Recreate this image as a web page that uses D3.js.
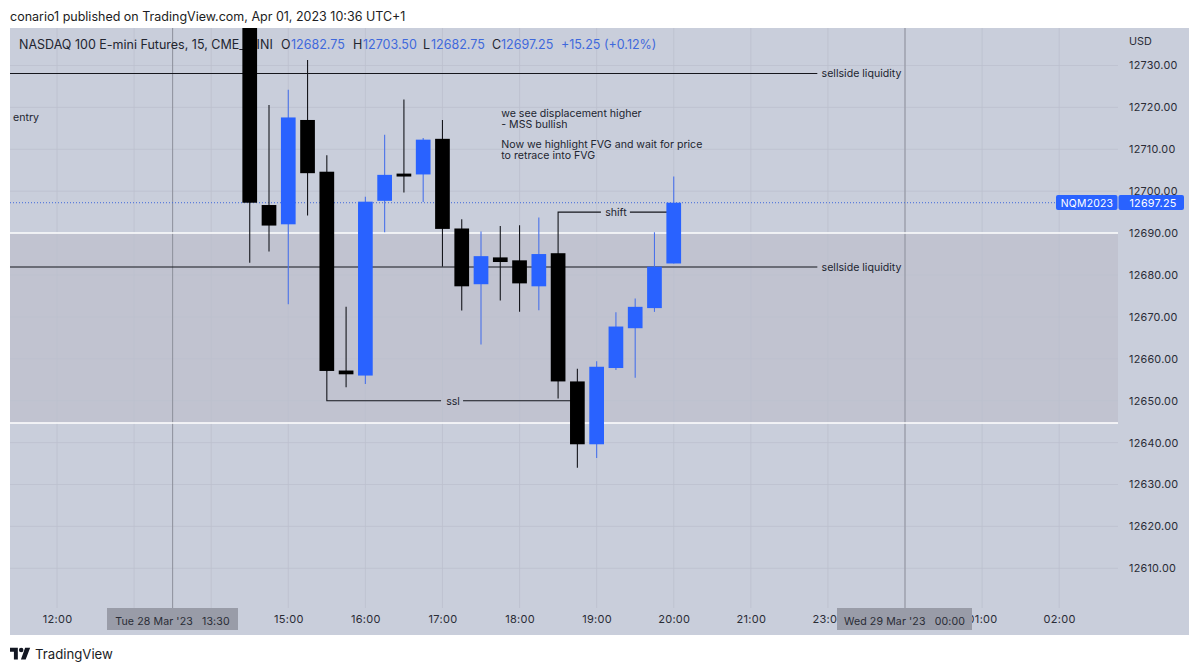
<!DOCTYPE html>
<html><head><meta charset="utf-8">
<script src="https://cdn.jsdelivr.net/npm/d3@7"></script>
<style>
html,body{margin:0;padding:0;background:#fff;overflow:hidden}
svg{display:block}
text{font-family:Inter,"Noto Sans",sans-serif}
</style></head><body>
<svg id="c" width="1200" height="672"></svg>
<script>
// bar index 0 = 12:00, 15-minute bars (22:00 hour is absent from the session)
const barIndex = [10,11,12,13,14,15,16,17,18,19,20,21,22,23,24,25,26,27,28,29,30,31,32];
const opens  = [12745,12696.7,12692.1,12717.0,12704.65,12657.2,12656.0,12697.7,12704.2,12704.0,12712.5,12691.1,12677.8,12684.2,12683.5,12677.3,12685.2,12654.6,12639.6,12657.8,12667.3,12672.1,12682.75];
const highs  = [12750,12720.6,12724.2,12731.3,12708.6,12672.4,12698.7,12713.5,12721.9,12712.7,12717.0,12693.3,12690.4,12691.7,12691.9,12693.7,12685.25,12657.6,12659.4,12671.1,12674.4,12690.2,12703.5];
const lows   = [12682.9,12685.6,12673.0,12694.2,12657.0,12653.2,12654.0,12690.2,12699.7,12697.4,12682.0,12671.5,12663.4,12673.9,12671.2,12671.6,12650.5,12634.0,12636.3,12657.3,12655.5,12671.2,12682.75];
const closes = [12697.25,12691.8,12717.6,12704.3,12657.1,12656.3,12697.5,12703.9,12703.5,12712.3,12691.0,12677.3,12684.5,12683.1,12678.0,12685.0,12654.6,12639.6,12658.1,12667.7,12672.4,12682.0,12697.25];

const priceTicks = [12730,12720,12710,12700,12690,12680,12670,12660,12650,12640,12630,12620,12610];
const gridBars = [0,4,8,12,16,20,24,28,32,36,40,44,48,52];
const timeBars = [0,12,16,20,24,28,32,36,40,48,52];
const timeLabels = ["12:00","15:00","16:00","17:00","18:00","19:00","20:00","21:00","23:00","01:00","02:00"];

const zoneTop = 12690, zoneBottom = 12644.7;
const lastPrice = 12697.25;
const sellsideLevels = [12728.1,12681.9];
const sellsideEnd = 39.45, sellsideLabelBar = 40.45;
const sslLevel = 12650, sslFromBar = 14, sslToBar = 27, sslLabelBar = 20.55;
const shiftLevel = 12695, shiftFromBar = 26, shiftToBar = 32, shiftLabelBar = 29;
const noteLines = [["we see displacement higher",12717.7],["- MSS bullish",12715.1],["Now we highlight FVG and wait for price",12710.3],["to retrace into FVG",12707.7]];
const noteBar = 23.05;
const crossBars = [6,44];
const crossLabels = ["Tue 28 Mar '23   13:30","Wed 29 Mar '23   00:00"];

const ohlc = [["O","12682.75"],["H","12703.50"],["L","12682.75"],["C","12697.25"]];
const ohlcX = [281,353,423,492];

const BLUE="#2962ff", VAL="#3f69dc", INK="#222530", AX="#2a2c36";
const PANE={l:10,r:1189,t:28,b:635}, PLOT_R=1118, GRID_B=608;

const svg=d3.select("#c");
const x=d3.scaleLinear().domain([0,52]).range([57,1059.2]);
const y=d3.scaleLinear().domain([12730,12610]).range([65.5,568.3]);

svg.append("text").attr("x",10).attr("y",21).attr("font-size",12.5).attr("fill","#1c1c22")
  .text("conario1 published on TradingView.com, Apr 01, 2023 10:36 UTC+1");

const defs=svg.append("defs");
defs.append("clipPath").attr("id","pane").append("rect")
  .attr("x",PANE.l).attr("y",PANE.t).attr("width",PLOT_R-PANE.l).attr("height",GRID_B-PANE.t);

svg.append("rect").attr("x",PANE.l).attr("y",PANE.t).attr("width",PANE.r-PANE.l).attr("height",PANE.b-PANE.t).attr("fill","#c9cedb");

// highlighted zone
svg.append("rect").attr("x",PANE.l).attr("width",PLOT_R-PANE.l)
  .attr("y",y(zoneTop)).attr("height",y(zoneBottom)-y(zoneTop)).attr("fill","#c1c3d0");

// grid
svg.append("g").selectAll("line").data(priceTicks).join("line")
  .attr("x1",PANE.l).attr("x2",PLOT_R).attr("y1",d=>y(d)).attr("y2",d=>y(d)).attr("stroke","#bcc0ce").attr("stroke-width",.8);
svg.append("g").selectAll("line").data(gridBars).join("line")
  .attr("x1",d=>x(d)).attr("x2",d=>x(d)).attr("y1",PANE.t).attr("y2",GRID_B).attr("stroke","#bcc0ce").attr("stroke-width",.8);

// crosshair-like verticals
svg.append("g").selectAll("line").data(crossBars).join("line")
  .attr("x1",d=>x(d)).attr("x2",d=>x(d)).attr("y1",PANE.t).attr("y2",GRID_B).attr("stroke","#8d8f9b").attr("stroke-width",1);

// zone borders
svg.append("g").selectAll("line").data([zoneTop,zoneBottom]).join("line")
  .attr("x1",PANE.l).attr("x2",PLOT_R).attr("y1",d=>y(d)).attr("y2",d=>y(d)).attr("stroke","#fff").attr("stroke-width",1.5);

// last price
svg.append("line").attr("x1",PANE.l).attr("x2",1056).attr("y1",y(lastPrice)).attr("y2",y(lastPrice))
  .attr("stroke",VAL).attr("stroke-width",1).attr("stroke-dasharray","1 2");

// legend (lies under the candles)
const lg=svg.append("g").attr("font-size",12.5);
lg.append("text").attr("x",19).attr("y",49).attr("fill",INK).text("NASDAQ 100 E-mini Futures, 15, CME_MINI");
ohlc.forEach((d,i)=>{
  lg.append("text").attr("x",ohlcX[i]).attr("y",49).attr("fill",INK).text(d[0]);
  lg.append("text").attr("x",ohlcX[i]+(d[0]==="L"?8:d[0]==="C"?9:10)).attr("y",49).attr("fill",VAL).text(d[1]);
});
lg.append("text").attr("x",561).attr("y",49).attr("fill",VAL).text("+15.25 (+0.12%)");

// sellside lines
const an=svg.append("g").attr("clip-path","url(#pane)");
an.selectAll("line.s").data(sellsideLevels).join("line").attr("class","s")
  .attr("x1",PANE.l).attr("x2",x(sellsideEnd)).attr("y1",d=>y(d)).attr("y2",d=>y(d)).attr("stroke","#15161c").attr("stroke-width",1.1);
svg.append("g").selectAll("text").data(sellsideLevels).join("text")
  .attr("x",x(sellsideLabelBar)-15).attr("y",d=>y(d)+4).attr("font-size",10.6).attr("fill",INK).text("sellside liquidity");

// ssl / shift connectors
const path=d3.line();
an.append("path").attr("fill","none").attr("stroke","#15161c").attr("stroke-width",1.1)
  .attr("d",path([[x(sslFromBar),y(closes[4])],[x(sslFromBar),y(sslLevel)],[x(sslLabelBar)-12,y(sslLevel)]]));
an.append("path").attr("fill","none").attr("stroke","#15161c").attr("stroke-width",1.1)
  .attr("d",path([[x(sslLabelBar)+10,y(sslLevel)],[x(sslToBar),y(sslLevel)]]));
an.append("path").attr("fill","none").attr("stroke","#15161c").attr("stroke-width",1.1)
  .attr("d",path([[x(shiftFromBar),y(opens[16])],[x(shiftFromBar),y(shiftLevel)],[x(shiftLabelBar)-15,y(shiftLevel)]]));
an.append("path").attr("fill","none").attr("stroke","#15161c").attr("stroke-width",1.1)
  .attr("d",path([[x(shiftLabelBar)+14,y(shiftLevel)],[x(shiftToBar),y(shiftLevel)]]));

// candles
const bars=barIndex.map((b,i)=>({b,o:opens[i],h:highs[i],l:lows[i],c:closes[i]}));
const BW=14.7;
const cg=svg.append("g").attr("clip-path","url(#pane)");
const col=d=>d.c>=d.o?BLUE:"#000";
cg.selectAll("line").data(bars).join("line")
  .attr("x1",d=>x(d.b)).attr("x2",d=>x(d.b)).attr("y1",d=>y(d.h)).attr("y2",d=>y(d.l))
  .attr("stroke",d=>d.c>=d.o?"#4a72ea":"#15161c").attr("stroke-width",1.1);
cg.selectAll("rect").data(bars).join("rect")
  .attr("x",d=>x(d.b)-BW/2).attr("width",BW)
  .attr("y",d=>y(Math.max(d.o,d.c))).attr("height",d=>Math.abs(y(d.o)-y(d.c)))
  .attr("fill",col);

// annotation labels
const al=svg.append("g").attr("font-size",10.6).attr("fill",INK);
al.append("text").attr("x",x(sslLabelBar)).attr("y",y(sslLevel)+4).attr("text-anchor","middle").text("ssl");
al.append("text").attr("x",x(shiftLabelBar)).attr("y",y(shiftLevel)+4).attr("text-anchor","middle").text("shift");
al.append("text").attr("x",13).attr("y",121).text("entry");
al.selectAll("text.n").data(noteLines).join("text").attr("class","n")
  .attr("x",x(noteBar)).attr("y",d=>y(d[1])).text(d=>d[0]);

// price axis
const yAxis=d3.axisRight(y).tickValues(priceTicks).tickFormat(d3.format(".2f")).tickSize(0).tickPadding(0);
const ya=svg.append("g").attr("transform","translate(1129,0)").call(yAxis);
ya.select(".domain").remove();
ya.selectAll("text").attr("font-size",10.8).attr("font-family","Inter,sans-serif").attr("fill",AX).attr("letter-spacing",".25");
svg.append("text").attr("x",1129).attr("y",45).attr("font-size",10.8).attr("fill",AX).text("USD");

// last price tags
svg.append("rect").attr("x",1056).attr("y",195).attr("width",61.5).attr("height",15).attr("rx",2).attr("fill",BLUE);
svg.append("rect").attr("x",1118.5).attr("y",195).attr("width",65.5).attr("height",15).attr("rx",2).attr("fill",BLUE);
svg.append("text").attr("x",1087).attr("y",206.5).attr("text-anchor","middle").attr("font-size",10.4).attr("letter-spacing",".25").attr("fill","#fff").text("NQM2023");
svg.append("text").attr("x",1153).attr("y",206.5).attr("text-anchor","middle").attr("font-size",10.8).attr("letter-spacing",".25").attr("fill","#fff").text(d3.format(".2f")(lastPrice));

// time axis
const xAxis=d3.axisBottom(x).tickValues(timeBars).tickFormat((d,i)=>timeLabels[i]).tickSize(0).tickPadding(0);
const xa=svg.append("g").attr("transform","translate(0,615)").call(xAxis);
xa.select(".domain").remove();
xa.selectAll("text").attr("font-size",11).attr("font-family","Inter,sans-serif").attr("fill",AX).attr("letter-spacing",".3");

// date boxes
const boxes=[[107,238],[837,972]];
crossLabels.forEach((t,i)=>{
  svg.append("rect").attr("x",boxes[i][0]).attr("y",608).attr("width",boxes[i][1]-boxes[i][0]).attr("height",22).attr("fill","#999ca8");
  svg.append("text").attr("x",(boxes[i][0]+boxes[i][1])/2).attr("y",625).attr("text-anchor","middle")
    .attr("font-size",10.6).attr("letter-spacing",".1").attr("fill",AX).style("white-space","pre").text(t);
});

// footer
const logo=svg.append("g").attr("transform","translate(10,645.6) scale(.56)").attr("fill","#131722");
logo.append("path").attr("d","M14 25H7V11H0V4h14v21zM28 25h-8.5L27 4h9l-8 21z");
logo.append("circle").attr("cx",20).attr("cy",8).attr("r",4);
svg.append("text").attr("x",35).attr("y",659).attr("font-size",13.2).attr("fill","#1a1c24").text("TradingView");
</script>
</body></html>
